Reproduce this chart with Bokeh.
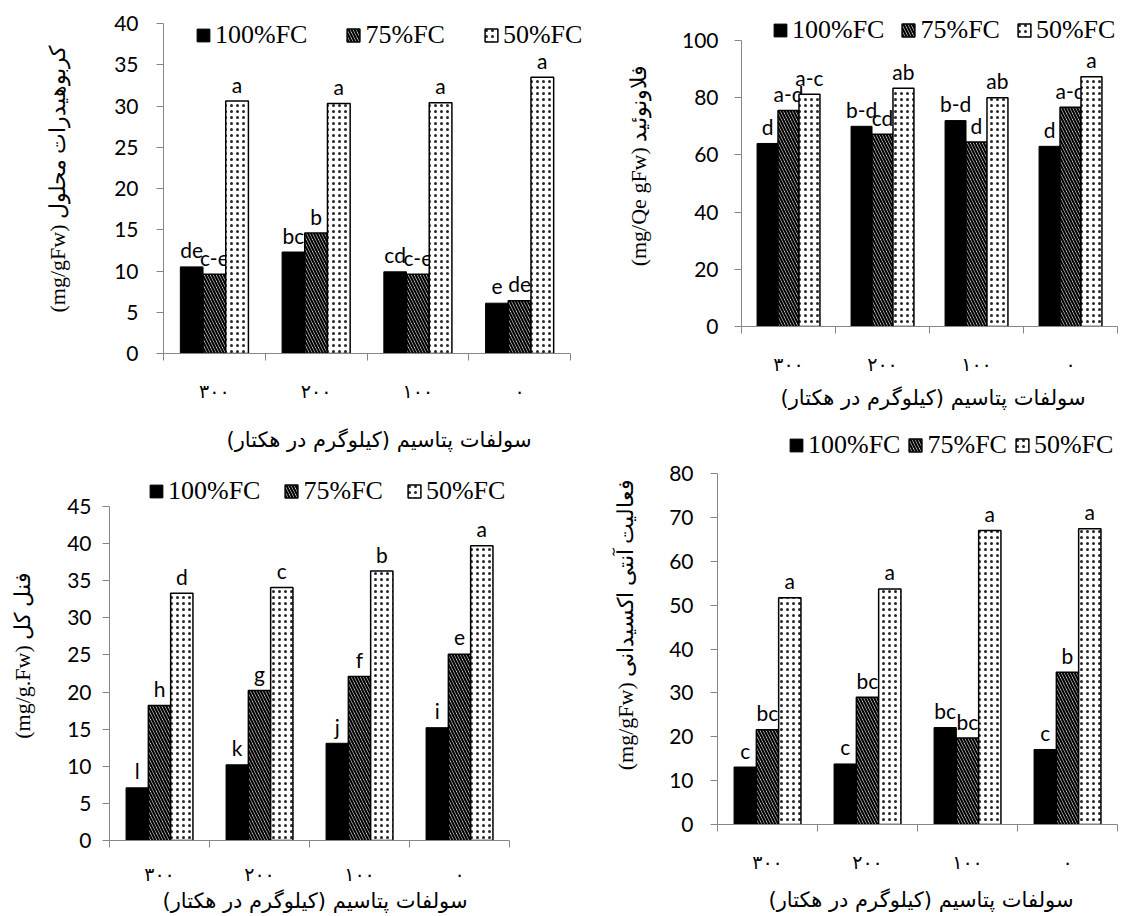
from bokeh.plotting import figure
from bokeh.models import ColumnDataSource, Range1d, FixedTicker, Legend, LegendItem
from bokeh.layouts import row, column
from bokeh.embed import file_html
from bokeh.resources import INLINE
from bokeh.core.properties import value

# ---------------- data ----------------
doses = ["۳۰۰", "۲۰۰", "۱۰۰", "۰"]
series_names = ["100%FC", "75%FC", "50%FC"]

carb_100 = [10.5, 12.3, 9.9, 6.1]
carb_75 = [9.6, 14.6, 9.6, 6.4]
carb_50 = [30.6, 30.3, 30.4, 33.5]
carb_let_100 = ["de", "bc", "cd", "e"]
carb_let_75 = ["c-e", "b", "c-e", "de"]
carb_let_50 = ["a", "a", "a", "a"]

flav_100 = [64.0, 70.0, 72.0, 63.0]
flav_75 = [75.5, 67.2, 64.5, 76.7]
flav_50 = [81.2, 83.3, 80.0, 87.3]
flav_let_100 = ["d", "b-d", "b-d", "d"]
flav_let_75 = ["a-d", "cd", "d", "a-d"]
flav_let_50 = ["a-c", "ab", "ab", "a"]

phen_100 = [7.1, 10.2, 13.1, 15.2]
phen_75 = [18.2, 20.2, 22.1, 25.1]
phen_50 = [33.3, 34.1, 36.3, 39.7]
phen_let_100 = ["l", "k", "j", "i"]
phen_let_75 = ["h", "g", "f", "e"]
phen_let_50 = ["d", "c", "b", "a"]

anti_100 = [13.1, 13.8, 22.1, 17.1]
anti_75 = [21.6, 29.0, 19.7, 34.7]
anti_50 = [51.7, 53.7, 67.0, 67.4]
anti_let_100 = ["c", "c", "bc", "c"]
anti_let_75 = ["bc", "bc", "bc", "b"]
anti_let_50 = ["a", "a", "a", "a"]

x_title = "\u200f" + "سولفات پتاسیم (کیلوگرم در هکتار)" + "\u200f"
y_title_carb = "(mg/gFw) کربوهیدرات محلول"
y_title_flav = "(mg/Qe gFw) فلاونوئید"
y_title_phen = "(mg/g.Fw) فنل کل"
y_title_anti = "(mg/gFw) فعالیت آنتی اکسیدانی"

# ---------------- styles ----------------
AXIS_GRAY = "#868686"
BAR_W = 0.223
OFFSETS = [-BAR_W, 0.0, BAR_W]
BAR_STYLES = [
    dict(fill_color="black", line_color="black", line_width=1),
    dict(fill_color="white", line_color="black", line_width=1.5,
         hatch_pattern="left_diagonal_line", hatch_color="black",
         hatch_scale=6, hatch_weight=2.2),
    dict(fill_color="white", line_color="black", line_width=1.5,
         hatch_pattern="dot", hatch_color="black", hatch_alpha=0.85,
         hatch_scale=6, hatch_weight=1),
]


def make_panel(series, letters, ymax, ystep, ytitle, cfg):
    # cfg: figure size, frame box and axis extent in pixels of the figure
    w, h = cfg["size"]
    fl, ft, fr, fb = cfg["frame"]          # frame edges (px, figure coords)
    ax_x1, ax_ytop = cfg["axis_end"]        # pixel where x axis ends / where ymax sits
    n = len(doses)
    x_end = n * (fr - fl) / (ax_x1 - fl)
    y_end = ymax * (fb - ft) / (fb - ax_ytop)
    p = figure(width=w, height=h, output_backend="svg", toolbar_location=None,
               x_range=Range1d(0, x_end), y_range=Range1d(0, y_end),
               min_border_left=fl, min_border_right=w - fr,
               min_border_top=ft, min_border_bottom=h - fb)
    p.frame_align = False
    p.outline_line_color = None
    p.xgrid.visible = False
    p.ygrid.visible = False
    p.background_fill_color = "white"
    p.border_fill_color = "white"

    renderers = []
    for k, (vals, lets) in enumerate(zip(series, letters)):
        xs = [i + 0.5 + OFFSETS[k] for i in range(n)]
        src = ColumnDataSource(dict(x=xs, top=vals, lbl=lets))
        r = p.vbar(x="x", top="top", width=BAR_W, bottom=0, source=src, **BAR_STYLES[k])
        renderers.append(r)
        p.text(x="x", y="top", text="lbl", source=src, text_align="center",
               text_baseline="alphabetic", y_offset=-17,
               text_font=value("Lato"), text_font_size="21px", text_color="black")

    xa = p.xaxis[0]
    xa.bounds = (0, n)
    xa.ticker = FixedTicker(ticks=[i + 0.5 for i in range(n)],
                            minor_ticks=list(range(n + 1)))
    xa.major_label_overrides = {i + 0.5: d for i, d in enumerate(doses)}
    xa.major_tick_in = 0
    xa.major_tick_out = 0
    xa.minor_tick_in = 0
    xa.minor_tick_out = 7
    xa.minor_tick_line_color = AXIS_GRAY
    xa.axis_line_color = AXIS_GRAY
    xa.major_label_text_font = "DejaVu Sans"
    xa.major_label_text_font_size = "19px"
    xa.major_label_text_color = "black"
    xa.major_label_standoff = cfg["xlab_so"]
    xa.axis_label = x_title
    xa.axis_label_text_font = "DejaVu Sans"
    xa.axis_label_text_font_size = "21px"
    xa.axis_label_text_font_style = "normal"
    xa.axis_label_text_color = "black"
    xa.axis_label_standoff = cfg["xtitle_so"]

    ya = p.yaxis[0]
    ya.bounds = (0, ymax)
    ya.ticker = FixedTicker(ticks=list(range(0, ymax + 1, ystep)))
    ya.minor_tick_line_color = None
    ya.major_tick_in = 0
    ya.major_tick_out = 7
    ya.major_tick_line_color = AXIS_GRAY
    ya.axis_line_color = AXIS_GRAY
    ya.major_label_text_font = "Lato"
    ya.major_label_text_font_size = "21px"
    ya.major_label_text_color = "black"
    ya.major_label_standoff = cfg["ylab_so"]
    ya.axis_label = ytitle
    ya.axis_label_text_font = "Liberation Serif"
    ya.axis_label_text_font_size = "22px"
    ya.axis_label_text_font_style = "normal"
    ya.axis_label_text_color = "black"
    ya.axis_label_standoff = cfg["ytitle_so"]

    items = [LegendItem(label=nm, renderers=[r]) for nm, r in zip(series_names, renderers)]
    lx, lcy = cfg["legend"]                 # legend left and vertical centre (figure px)
    leg = Legend(items=items, orientation="horizontal",
                 location=(lx - fl, fb - lcy - 15),
                 spacing=cfg["leg_sp"], padding=0, margin=0, label_standoff=4,
                 glyph_width=16, glyph_height=16, label_height=20,
                 label_text_font="Liberation Serif", label_text_font_size="26px",
                 label_text_color="black",
                 border_line_color=None, background_fill_alpha=0)
    p.add_layout(leg, "center")
    return p


CFG1 = dict(size=(598, 462), frame=(163, 4, 594, 353), axis_end=(570, 23),
            legend=(195, 35), leg_sp=38, xlab_so=19, xtitle_so=23, ylab_so=18, ytitle_so=41)
CFG2 = dict(size=(526, 420), frame=(143, 4, 526, 326), axis_end=(519, 40),
            legend=(174, 30), leg_sp=16, xlab_so=19, xtitle_so=8, ylab_so=16, ytitle_so=28)
CFG3 = dict(size=(598, 454), frame=(109, 8, 520, 378), axis_end=(509, 44),
            legend=(148, 29), leg_sp=23, xlab_so=15, xtitle_so=1, ylab_so=11, ytitle_so=29)
CFG4 = dict(size=(526, 496), frame=(119, 4, 526, 404), axis_end=(519, 53),
            legend=(190, 25), leg_sp=7, xlab_so=19, xtitle_so=12, ylab_so=17, ytitle_so=28)

p1 = make_panel([carb_100, carb_75, carb_50], [carb_let_100, carb_let_75, carb_let_50],
                40, 5, y_title_carb, CFG1)
p2 = make_panel([flav_100, flav_75, flav_50], [flav_let_100, flav_let_75, flav_let_50],
                100, 20, y_title_flav, CFG2)
p3 = make_panel([phen_100, phen_75, phen_50], [phen_let_100, phen_let_75, phen_let_50],
                45, 5, y_title_phen, CFG3)
p4 = make_panel([anti_100, anti_75, anti_50], [anti_let_100, anti_let_75, anti_let_50],
                80, 10, y_title_anti, CFG4)

layout = row(column(p1, p3), column(p2, p4))
open("out.html", "w").write(file_html(layout, INLINE))
